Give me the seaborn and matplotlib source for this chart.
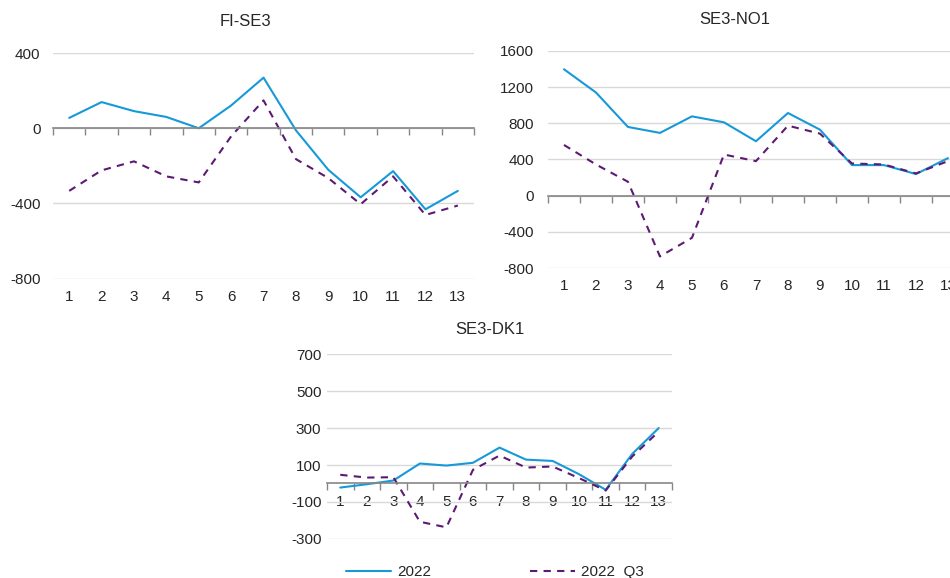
import matplotlib
matplotlib.use("Agg")
import matplotlib.pyplot as plt
import seaborn as sns
import pandas as pd

sns.set_style("white")
plt.rcParams["font.family"] = ["Liberation Sans", "DejaVu Sans"]
plt.rcParams["axes.unicode_minus"] = False

periods = list(range(1, 14))

fi_se3_2022 = [55, 139, 91, 60, 0, 121, 269, -11, -221, -367, -228, -431, -333]
fi_se3_q3 = [-333, -224, -176, -256, -288, -43, 148, -164, -265, -404, -256, -461, -411]

se3_no1_2022 = [1398, 1141, 760, 694, 877, 811, 602, 914, 730, 338, 338, 239, 415]
se3_no1_q3 = [561, 345, 154, -672, -466, 455, 382, 774, 686, 356, 345, 246, 382]

se3_dk1_2022 = [-22, -4, 16, 108, 97, 112, 194, 129, 122, 50, -34, 160, 300]
se3_dk1_q3 = [47, 32, 34, -207, -237, 74, 151, 86, 92, 29, -38, 146, 281]

labels = ["2022", "2022  Q3"]
blue = "#1799d8"
purple = "#5c1a73"
grid_c = "#d9d9d9"
axis_c = "#868686"

fig = plt.figure(figsize=(9.5, 5.78), dpi=100)

panels = [
    ("FI-SE3", fi_se3_2022, fi_se3_q3, [0.0558, 0.5178, 0.4432, 0.3905], (-800, 400), 400, True, (245, 22), 9),
    ("SE3-NO1", se3_no1_2022, se3_no1_q3, [0.5768, 0.5363, 0.4379, 0.3755], (-800, 1600), 400, True, (735, 20), 10),
    ("SE3-DK1", se3_dk1_2022, se3_dk1_q3, [0.3442, 0.0675, 0.3632, 0.32], (-300, 700), 200, False, (490, 329), 4),
]

for title, s1, s2, pos, ylim, step, low_labels, tpos, ypad in panels:
    ax = fig.add_axes(pos)
    df = pd.DataFrame({"period": periods, "a": s1, "b": s2})
    sns.lineplot(data=df, x="period", y="a", ax=ax, color=blue, lw=1.5, label=labels[0], legend=False)
    sns.lineplot(data=df, x="period", y="b", ax=ax, color=purple, lw=1.5, ls=(0, (3.5, 3)), label=labels[1], legend=False)
    ax.set_xlim(0.5, 13.5)
    ax.set_ylim(*ylim)
    ax.set_yticks(range(ylim[0], ylim[1] + 1, step))
    ax.yaxis.grid(True, color=grid_c, lw=1)
    ax.set_axisbelow(True)
    for s in ["left", "right", "top"]:
        ax.spines[s].set_visible(False)
    ax.spines["bottom"].set_position(("data", 0))
    ax.spines["bottom"].set_color(axis_c)
    ax.spines["bottom"].set_linewidth(1.2)
    ax.set_xticks(periods)
    ax.set_xticks([p - 0.5 for p in periods] + [13.5], minor=True)
    ax.tick_params(axis="x", which="minor", bottom=True, length=5, direction="out", color=axis_c, width=1)
    ax.tick_params(axis="x", which="major", bottom=True, length=0, labelsize=11, pad=8)
    ax.tick_params(axis="y", length=0, labelsize=11, pad=ypad)
    ax.set_xlabel("")
    ax.set_ylabel("")
    if low_labels:
        ax.tick_params(axis="x", which="major", labelbottom=False)
        sec = ax.secondary_xaxis("bottom")
        sec.set_xticks(periods)
        sec.tick_params(length=0, labelsize=11, pad=8)
        sec.spines["bottom"].set_visible(False)
    fig.text(tpos[0] / 950, 1 - tpos[1] / 578, title, ha="center", va="center", fontsize=12)

handles, _ = ax.get_legend_handles_labels()
fig.legend(handles, labels, loc="center", bbox_to_anchor=(495 / 950, 1 - 572 / 578),
           ncol=2, frameon=False, fontsize=11, handlelength=2.9, columnspacing=6.5,
           handletextpad=0.4)

fig.savefig("out.png", dpi=100)
